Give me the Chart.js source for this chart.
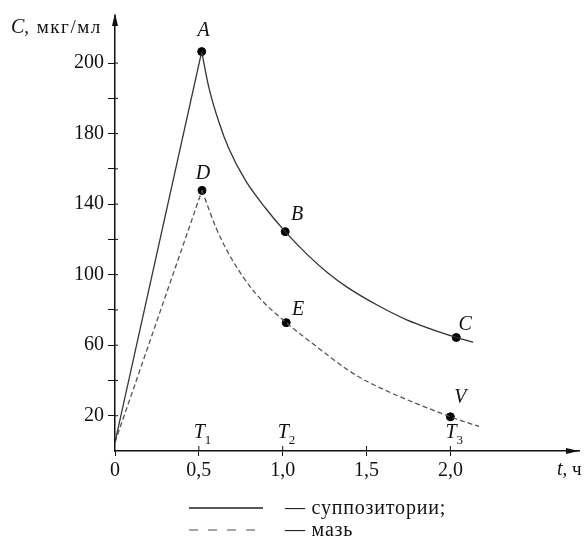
<!DOCTYPE html>
<html>
<head>
<meta charset="utf-8">
<script src="https://cdn.jsdelivr.net/npm/chart.js@4"></script>
<style>
    html, body { margin: 0; padding: 0; background: #fff; }
    #wrap { width: 584px; height: 544px; }
</style>
</head>
<body>
<div id="wrap"><canvas id="myChart"></canvas></div>
<script>
// Время, ч и концентрация C (в единицах шкалы оси)
const suppRiseT = [0, 0.517];
const suppRiseC = [5, 226.5];
const suppFallT = [0.517, 0.56, 0.619, 0.678, 0.779, 0.897, 1.015, 1.15, 1.268, 1.386, 1.563, 1.74, 2.035, 2.136];
const suppFallC = [226.5, 206.1, 186.7, 171.7, 153.3, 137.8, 124.4, 111.1, 101.1, 92.8, 82.8, 74.4, 64.4, 61.7];

const mazRiseT = [0, 0.519];
const mazRiseC = [5, 147.8];
const mazFallT = [0.519, 0.602, 0.696, 0.838, 1.021, 1.168, 1.404, 1.504, 2.0, 2.171];
const mazFallC = [147.8, 126.7, 108.9, 89.4, 72.8, 61.7, 45, 39.4, 19.4, 13.9];

// Отмеченные точки
const pointNames = ['A', 'B', 'C', 'D', 'E', 'V'];
const pointT = [0.517, 1.015, 2.035, 0.519, 1.021, 2.0];
const pointC = [226.5, 124.4, 64.4, 147.8, 72.8, 19.4];

// Подписи осей
const xTickValues = [0, 0.5, 1.0, 1.5, 2.0];
const xTickLabels = ['0', '0,5', '1,0', '1,5', '2,0'];
const tMarkValues = [0.5, 1.0, 2.0];
const tMarkIndex = ['1', '2', '3'];
const yTickValues = [20, 40, 60, 80, 100, 120, 140, 160, 180, 200, 220];
const yTickLabels = ['20', '', '60', '', '100', '', '140', '', '180', '', '200'];

const legendLabels = ['— суппозитории;', '— мазь'];

const xy = (ts, cs) => ts.map((t, i) => ({ x: t, y: cs[i] }));

const solidColor = '#333';
const dashColor = '#555';
const serif = "'Liberation Serif', 'DejaVu Serif', serif";

const labelShift = { A: [2, -21], B: [12, -17], C: [9, -13], D: [1, -17], E: [12, -13], V: [10, -19] };

const decor = {
    id: 'decor',
    afterDraw(chart) {
        const ctx = chart.ctx;
        const xs = chart.scales.x;
        const ys = chart.scales.y;
        const x0 = xs.left;
        const y0 = ys.bottom;
        ctx.save();
        ctx.fillStyle = '#111';
        ctx.strokeStyle = '#111';

        // стрелки осей
        ctx.beginPath();
        ctx.moveTo(x0, ys.top - 3);
        ctx.lineTo(x0 - 3, ys.top + 10);
        ctx.lineTo(x0 + 3, ys.top + 10);
        ctx.closePath();
        ctx.fill();
        ctx.beginPath();
        ctx.moveTo(xs.right, y0);
        ctx.lineTo(xs.right - 13, y0 - 3);
        ctx.lineTo(xs.right - 13, y0 + 3);
        ctx.closePath();
        ctx.fill();

        // засечки внутрь области
        ctx.lineWidth = 1;
        yTickValues.forEach(v => {
            let py = ys.getPixelForValue(v);
            ctx.beginPath();
            ctx.moveTo(x0, py);
            ctx.lineTo(x0 + 3, py);
            ctx.stroke();
        });
        xTickValues.slice(1).forEach(v => {
            let px = xs.getPixelForValue(v);
            ctx.beginPath();
            ctx.moveTo(px, y0);
            ctx.lineTo(px, y0 - 5);
            ctx.stroke();
        });

        // названия осей
        ctx.fillStyle = '#111';
        ctx.textBaseline = 'alphabetic';
        ctx.textAlign = 'left';
        ctx.font = 'italic 20px ' + serif;
        ctx.fillText('C', 11, 33);
        let w = ctx.measureText('C').width;
        ctx.font = '19px ' + serif;
        ctx.letterSpacing = '1.5px';
        ctx.fillText(', мкг/мл', 11 + w, 33);
        ctx.letterSpacing = '0px';

        ctx.font = 'italic 20px ' + serif;
        ctx.fillText('t', 557, 475);
        w = ctx.measureText('t').width;
        ctx.font = '19px ' + serif;
        ctx.fillText(', ч', 557 + w, 475);

        // T1, T2, T3
        tMarkValues.forEach((v, i) => {
            let px = xs.getPixelForValue(v);
            ctx.font = 'italic 20px ' + serif;
            ctx.fillText('T', px - 5, 438);
            ctx.font = '13px ' + serif;
            ctx.fillText(tMarkIndex[i], px + 6, 444);
        });

        // буквы у точек
        const meta = chart.getDatasetMeta(4);
        ctx.font = 'italic 20px ' + serif;
        ctx.textAlign = 'center';
        ctx.textBaseline = 'middle';
        meta.data.forEach((pt, i) => {
            let name = pointNames[i];
            let s = labelShift[name];
            ctx.fillText(name, pt.x + s[0], pt.y + s[1]);
        });

        // легенда
        const rows = [508, 530];
        ctx.textAlign = 'left';
        ctx.font = '20px ' + serif;
        ctx.lineWidth = 1.5;
        rows.forEach((ry, i) => {
            ctx.strokeStyle = i === 0 ? '#222' : '#888';
            ctx.setLineDash(i === 0 ? [] : [9, 10]);
            ctx.beginPath();
            ctx.moveTo(189, ry);
            ctx.lineTo(263, ry);
            ctx.stroke();
            ctx.setLineDash([]);
            ctx.letterSpacing = '0.8px';
            ctx.fillText(legendLabels[i], 285, ry + 1);
            ctx.letterSpacing = '0px';
        });
        ctx.restore();
    }
};

new Chart('myChart', {
    type: 'line',
    data: {
        datasets: [
            { data: xy(suppRiseT, suppRiseC), borderColor: solidColor, borderWidth: 1.3, pointRadius: 0, tension: 0 },
            { data: xy(suppFallT, suppFallC), borderColor: solidColor, borderWidth: 1.3, pointRadius: 0, cubicInterpolationMode: 'monotone' },
            { data: xy(mazRiseT, mazRiseC), borderColor: dashColor, borderWidth: 1.3, borderDash: [5, 3], pointRadius: 0, tension: 0 },
            { data: xy(mazFallT, mazFallC), borderColor: dashColor, borderWidth: 1.3, borderDash: [5, 3], pointRadius: 0, cubicInterpolationMode: 'monotone' },
            {
                type: 'scatter',
                data: xy(pointT, pointC),
                backgroundColor: '#000',
                borderColor: '#000',
                pointRadius: 4,
                showLine: false
            }
        ]
    },
    options: {
        responsive: true,
        maintainAspectRatio: false,
        animation: false,
        layout: {
            padding: { top: 7, right: 0, bottom: 58, left: 0 }
        },
        scales: {
            x: {
                type: 'linear',
                min: 0,
                max: 2.767,
                afterFit: s => { s.height = 35; },
                afterBuildTicks: s => { s.ticks = xTickValues.map(v => ({ value: v })); },
                ticks: {
                    color: '#111',
                    padding: 3,
                    maxRotation: 0,
                    font: { family: serif, size: 20 },
                    callback: (v) => xTickLabels[xTickValues.indexOf(v)]
                },
                grid: { drawOnChartArea: false, tickLength: 5, color: '#111' },
                border: { color: '#111', width: 1.5 }
            },
            y: {
                min: 0,
                max: 246.7,
                afterFit: s => { s.width = 115; },
                afterBuildTicks: s => { s.ticks = yTickValues.map(v => ({ value: v })); },
                ticks: {
                    color: '#111',
                    padding: 4,
                    font: { family: serif, size: 20 },
                    callback: (v) => yTickLabels[yTickValues.indexOf(v)]
                },
                grid: { drawOnChartArea: false, tickLength: 7, color: '#111' },
                border: { color: '#111', width: 1.5 }
            }
        },
        plugins: {
            legend: { display: false },
            tooltip: { enabled: false }
        }
    },
    plugins: [decor]
});
</script>
</body>
</html>
